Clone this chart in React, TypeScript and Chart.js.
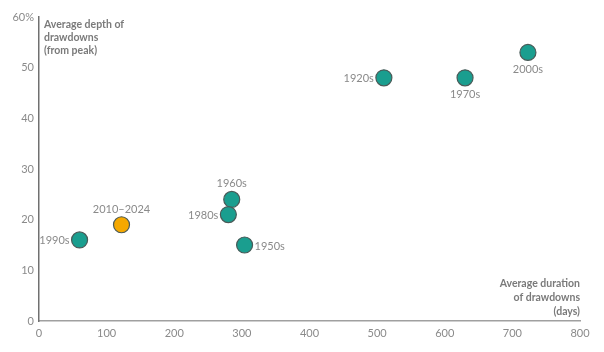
import React, { useEffect, useRef } from "react";
import { Chart, registerables } from "chart.js";

Chart.register(...registerables);

const labels = ["1990s", "2010–2024", "1960s", "1980s", "1950s", "1920s", "1970s", "2000s"];
const durations = [60, 122, 285, 280, 304, 510, 630, 723];
const depths = [16, 19, 24, 21, 15, 48, 48, 53];
const labelPos = ["left", "top", "top", "left", "right", "left", "bottom", "bottom"];
const colors = ["#1a9e8f", "#f5a800", "#1a9e8f", "#1a9e8f", "#1a9e8f", "#1a9e8f", "#1a9e8f", "#1a9e8f"];
const xTicks = [0, 100, 200, 300, 400, 500, 600, 700, 800];
const yTicks = [0, 10, 20, 30, 40, 50, 60];
const yTitle = ["Average depth of", "drawdowns", "(from peak)"];
const xTitle = ["Average duration", "of drawdowns", "(days)"];

const FONT = "Lato, 'Open Sans', sans-serif";

const labelPlugin = {
  id: "pointLabels",
  afterDatasetsDraw(chart: any) {
    const ctx = chart.ctx;
    const meta = chart.getDatasetMeta(0);
    ctx.save();
    ctx.font = `11px ${FONT}`;
    ctx.fillStyle = "#8a8a8a";
    meta.data.forEach((el: any, i: number) => {
      const { x, y } = el;
      const pos = labelPos[i];
      const off = 11;
      if (pos === "left") {
        ctx.textAlign = "right";
        ctx.textBaseline = "middle";
        ctx.fillText(labels[i], x - off + 1, y + 1);
      } else if (pos === "right") {
        ctx.textAlign = "left";
        ctx.textBaseline = "middle";
        ctx.fillText(labels[i], x + off - 1, y + 1);
      } else if (pos === "top") {
        ctx.textAlign = "center";
        ctx.textBaseline = "bottom";
        ctx.fillText(labels[i], x, y - off + 1);
      } else {
        ctx.textAlign = "center";
        ctx.textBaseline = "top";
        ctx.fillText(labels[i], x, y + off);
      }
    });
    const area = chart.chartArea;
    ctx.font = `bold 10.5px ${FONT}`;
    ctx.fillStyle = "#7a7a7a";
    ctx.textAlign = "left";
    ctx.textBaseline = "middle";
    yTitle.forEach((t, i) => ctx.fillText(t, area.left + 5, area.top + 8 + i * 13));
    ctx.textAlign = "right";
    xTitle.forEach((t, i) => ctx.fillText(t, area.right, area.bottom - 37 + i * 14));
    ctx.restore();
  },
};

export default function App() {
  const ref = useRef<HTMLCanvasElement>(null);
  useEffect(() => {
    if (!ref.current) return;
    const chart = new Chart(ref.current, {
      type: "scatter",
      data: {
        datasets: [
          {
            data: durations.map((d, i) => ({ x: d, y: depths[i] })),
            backgroundColor: colors,
            borderColor: "#4a5a58",
            borderWidth: 1.2,
            pointRadius: 8,
            pointHoverRadius: 8,
          },
        ],
      },
      options: {
        animation: false,
        responsive: false,
        maintainAspectRatio: false,
        layout: { padding: { top: 17, right: 24, left: 0, bottom: 0 } },
        plugins: { legend: { display: false }, tooltip: { enabled: false } },
        scales: {
          x: {
            type: "linear",
            min: 0,
            max: 800,
            afterBuildTicks: (s: any) => {
              s.ticks = xTicks.map((v) => ({ value: v }));
            },
            afterFit: (s: any) => {
              s.height = 31;
            },
            grid: { display: false, drawTicks: false },
            border: { display: true, color: "#a0a0a0", width: 1.5 },
            ticks: {
              color: "#8a8a8a",
              font: { size: 11, family: FONT },
              padding: 6,
              maxRotation: 0,
            },
          },
          y: {
            type: "linear",
            min: 0,
            max: 60,
            afterBuildTicks: (s: any) => {
              s.ticks = yTicks.map((v) => ({ value: v }));
            },
            afterFit: (s: any) => {
              s.width = 39;
            },
            grid: { display: false, drawTicks: false },
            border: { display: true, color: "#707070", width: 1.5 },
            ticks: {
              color: "#8a8a8a",
              font: { size: 11, family: FONT },
              padding: 5,
              callback: (v: any) => (v === 60 ? "60%" : String(v)),
            },
          },
        },
      },
      plugins: [labelPlugin],
    } as any);
    return () => chart.destroy();
  }, []);
  return (
    <div style={{ position: "fixed", left: 0, top: 0, width: 604, height: 352, background: "#fff" }}>
      <canvas ref={ref} width={604} height={352} style={{ width: 604, height: 352 }} />
    </div>
  );
}
